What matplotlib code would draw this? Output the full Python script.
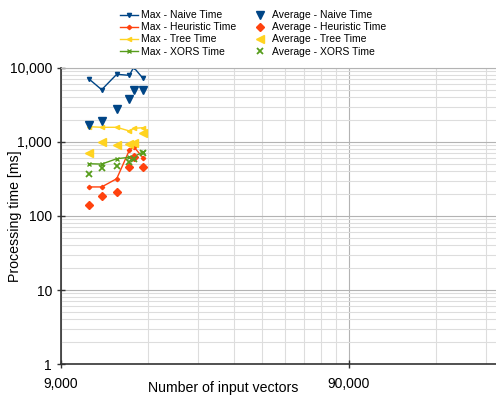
import matplotlib
matplotlib.use('Agg')
import matplotlib.pyplot as plt
from matplotlib.ticker import FixedLocator, FuncFormatter, NullFormatter

plt.rcParams['font.family'] = ['Liberation Sans', 'DejaVu Sans']

# input sizes
n_vectors = [11260, 12460, 14050, 15540, 16090, 17330]

max_naive = [7100, 5090, 8220, 7960, 10200, 7260]
avg_naive = [1700, 1920, 2770, 3780, 5050, 5050]
max_heur = [247, 247, 319, 773, 863, 614]
avg_heur = [140, 184, 209, 459, 627, 459]
max_tree = [1610, 1580, 1580, 1410, 1530, 1560]
avg_tree = [703, 1000, 902, 930, 980, 1320]
max_xors = [509, 503, 594, 621, 631, 733]
avg_xors = [366, 446, 474, 542, 584, 716]

c_naive = '#004586'
c_heur = '#ff420e'
c_tree = '#ffd320'
c_xors = '#579d1c'

fig = plt.figure(figsize=(4.96, 3.97), dpi=100)
ax = fig.add_axes([61/496, 1 - 364/397, 1 - 61/496, (364 - 68)/397])

ax.set_xscale('log')
ax.set_yscale('log')
ax.set_xlim(9000, 291400)
ax.set_ylim(1, 10000)

ax.plot(n_vectors, max_naive, color=c_naive, marker='v', ms=3, lw=1, label='Max - Naive Time')
ax.plot(n_vectors, max_heur, color=c_heur, marker='D', ms=2.2, lw=1, label='Max - Heuristic Time')
ax.plot(n_vectors, max_tree, color=c_tree, marker='<', ms=3, lw=1, label='Max - Tree Time')
ax.plot(n_vectors, max_xors, color=c_xors, marker='x', ms=3.5, mew=1, lw=1, label='Max - XORS Time')
ax.plot(n_vectors, avg_naive, ls='none', color=c_naive, marker='v', ms=5.5, label='Average - Naive Time')
ax.plot(n_vectors, avg_heur, ls='none', color=c_heur, marker='D', ms=4, label='Average - Heuristic Time')
ax.plot(n_vectors, avg_tree, ls='none', color=c_tree, marker='<', ms=5.5, label='Average - Tree Time')
ax.plot(n_vectors, avg_xors, ls='none', color=c_xors, marker='x', ms=5, mew=1.3, label='Average - XORS Time')

# ticks / grid
ax.xaxis.set_major_locator(FixedLocator([9000, 90000, 900000]))
ax.xaxis.set_minor_locator(FixedLocator([9000 * k * m for m in (1, 10) for k in range(2, 10)]))
ax.yaxis.set_major_locator(FixedLocator([1, 10, 100, 1000, 10000]))
ax.yaxis.set_minor_locator(FixedLocator([k * 10 ** e for e in range(0, 4) for k in range(2, 10)]))
fmt = FuncFormatter(lambda v, p: f'{int(round(v)):,}')
ax.xaxis.set_major_formatter(fmt)
ax.yaxis.set_major_formatter(fmt)
ax.xaxis.set_minor_formatter(NullFormatter())
ax.yaxis.set_minor_formatter(NullFormatter())
ax.tick_params(which='major', direction='inout', length=6, width=1, labelsize=10, color='#333333')
ax.tick_params(which='minor', length=0)
ax.tick_params(axis='x', pad=6)

ax.grid(which='major', color='#b3b3b3', lw=0.8)
ax.grid(which='minor', color='#dddddd', lw=0.8)
ax.set_axisbelow(True)

for s in ['left', 'bottom']:
    ax.spines[s].set_color('#333333')
    ax.spines[s].set_linewidth(1.2)
ax.spines['top'].set_color('#b3b3b3')
ax.spines['right'].set_visible(False)

ax.set_xlabel('Number of input vectors', fontsize=10.2)
ax.xaxis.set_label_coords(0.372, -0.057)
ax.set_ylabel('Processing time [ms]', fontsize=10.2)
ax.yaxis.set_label_coords(-0.09, 0.5)

fig.legend(loc='upper center', bbox_to_anchor=(0.51, 0.995), ncol=2, frameon=False,
           fontsize=7.5, handlelength=1.75, handletextpad=0.3, columnspacing=1.35,
           labelspacing=0.2, borderpad=0.3)

fig.savefig('out.png', dpi=100)
